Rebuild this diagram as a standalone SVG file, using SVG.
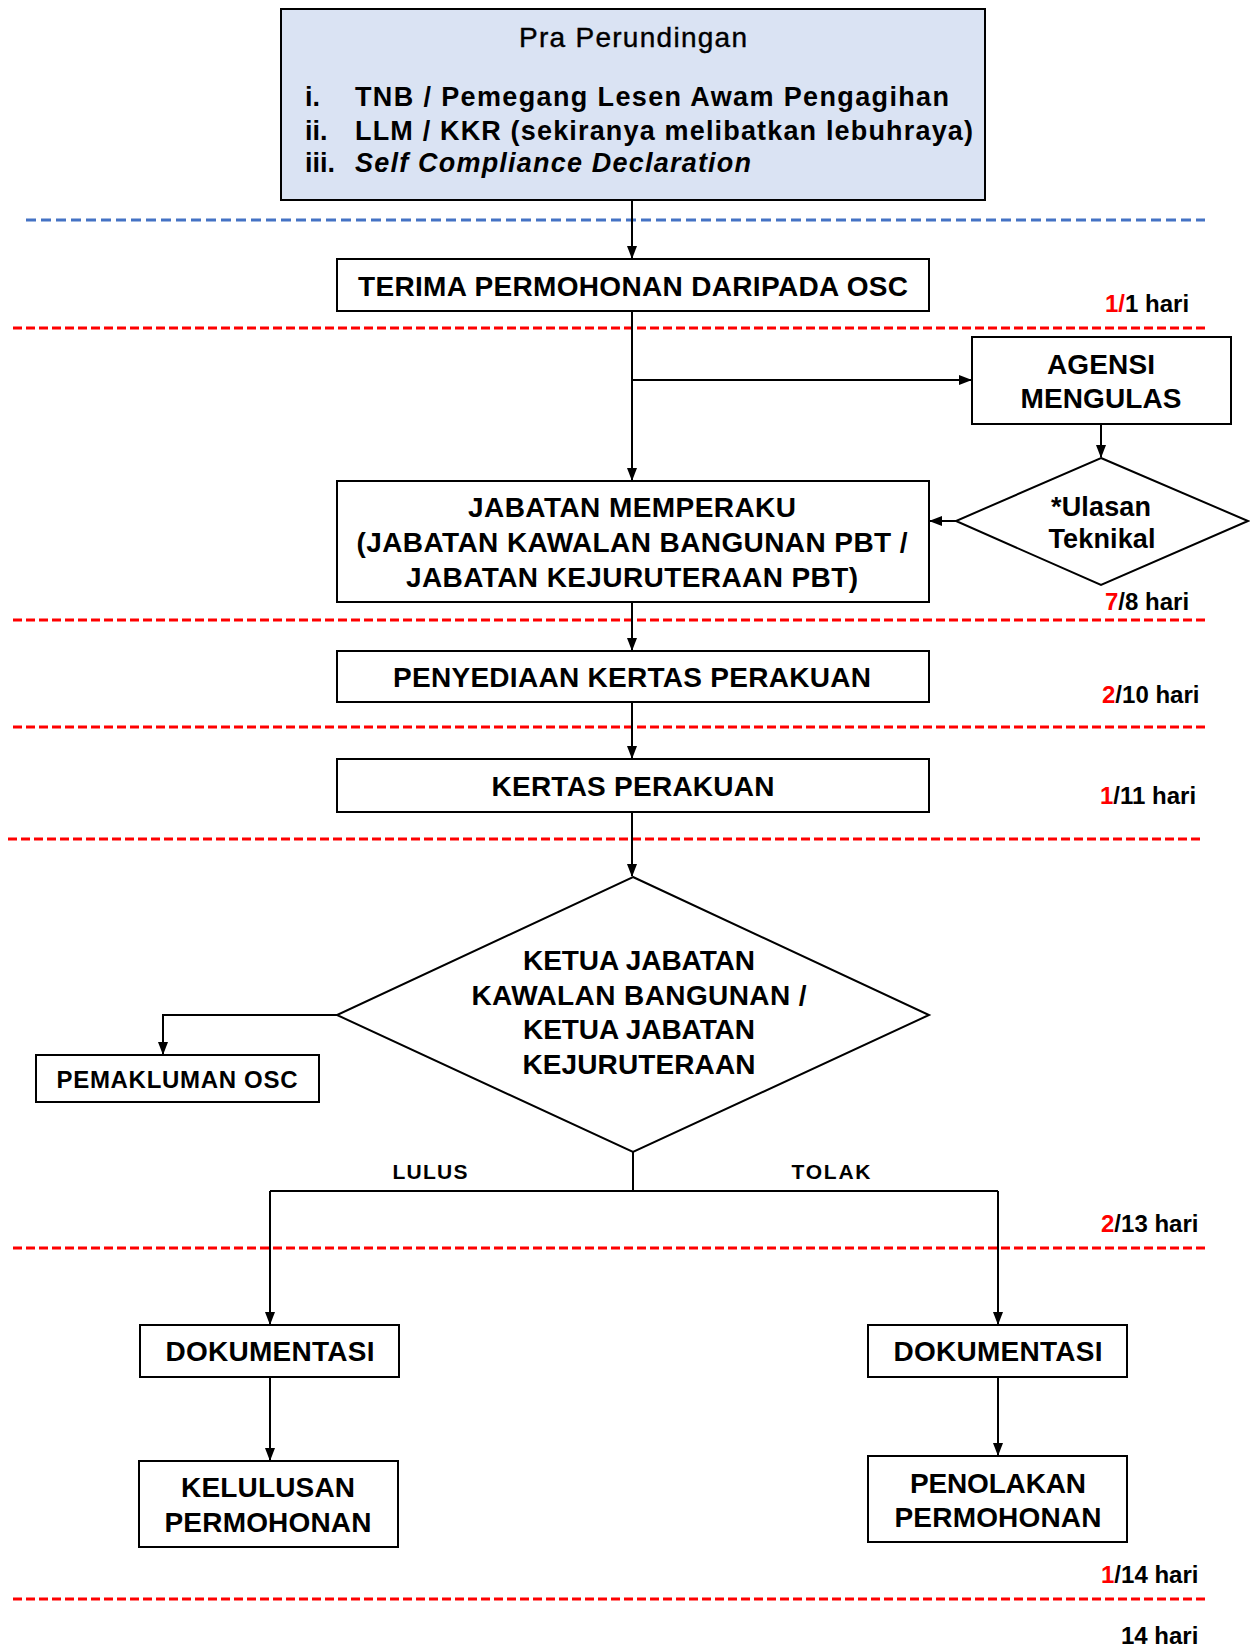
<svg xmlns="http://www.w3.org/2000/svg" width="1250" height="1647" viewBox="0 0 1250 1647">
<style>
.box{fill:#fff;stroke:#000;stroke-width:2}
.t{font-family:"Liberation Sans",Arial,sans-serif;font-weight:bold;font-size:28px;fill:#000;text-anchor:middle}
.s{font-family:"Liberation Sans",Arial,sans-serif;font-weight:bold;font-size:24px;fill:#000}
.r{fill:#ff0000}
.red{stroke:#ff0000;stroke-width:3;stroke-dasharray:9 4;fill:none}
.blue{stroke:#4472c4;stroke-width:3;stroke-dasharray:10 5;fill:none}
.c{stroke:#000;stroke-width:2;fill:none}
.ca{stroke:#000;stroke-width:2;fill:none;marker-end:url(#ah)}
</style>
<defs>
<marker id="ah" markerWidth="14" markerHeight="12" refX="12" refY="5" orient="auto" markerUnits="userSpaceOnUse">
<path d="M0,0 L13,5 L0,10 z" fill="#000"/>
</marker>
</defs>
<rect width="1250" height="1647" fill="#fff"/>
<g id="dividers">
<line class="blue" x1="26" y1="220" x2="1205" y2="220"/>
<line class="red" x1="13" y1="328" x2="1205" y2="328"/>
<line class="red" x1="13" y1="620" x2="1205" y2="620"/>
<line class="red" x1="13" y1="727" x2="1205" y2="727"/>
<line class="red" x1="8" y1="839" x2="1201" y2="839"/>
<line class="red" x1="13" y1="1248" x2="1205" y2="1248"/>
<line class="red" x1="13" y1="1599" x2="1205" y2="1599"/>
</g>
<g id="connectors">
<line class="ca" x1="632" y1="200" x2="632" y2="258"/>
<line class="ca" x1="632" y1="311" x2="632" y2="480"/>
<line class="ca" x1="632" y1="380" x2="971" y2="380"/>
<line class="ca" x1="1101" y1="424" x2="1101" y2="457"/>
<line class="ca" x1="956" y1="521" x2="930" y2="521"/>
<line class="ca" x1="632" y1="602" x2="632" y2="650"/>
<line class="ca" x1="632" y1="702" x2="632" y2="758"/>
<line class="ca" x1="632" y1="812" x2="632" y2="876"/>
<polyline class="ca" points="337,1015 163,1015 163,1054"/>
<line class="c" x1="633" y1="1152" x2="633" y2="1191"/>
<polyline class="ca" points="270,1191 270,1324"/>
<polyline class="c" points="270,1191 998,1191"/>
<polyline class="ca" points="998,1191 998,1324"/>
<line class="ca" x1="270" y1="1377" x2="270" y2="1460"/>
<line class="ca" x1="998" y1="1377" x2="998" y2="1455"/>
</g>
<g id="pra">
<rect x="281" y="9" width="704" height="191" fill="#dae3f3" stroke="#000" stroke-width="2"/>
<text x="633" y="47" font-family="Liberation Sans, Arial, sans-serif" font-size="28" text-anchor="middle" stroke="#000" stroke-width="0.4" textLength="228">Pra Perundingan</text>
<g font-family="Liberation Sans, Arial, sans-serif" font-weight="bold" font-size="27">
<text x="305" y="106">i.</text>
<text x="355" y="106" textLength="594">TNB / Pemegang Lesen Awam Pengagihan</text>
<text x="305" y="140">ii.</text>
<text x="355" y="140" textLength="618">LLM / KKR (sekiranya melibatkan lebuhraya)</text>
<text x="305" y="172">iii.</text>
<text x="355" y="172" font-style="italic" textLength="396">Self Compliance Declaration</text>
</g>
</g>
<g id="terima">
<rect class="box" x="337" y="259" width="592" height="52"/>
<text class="t" x="633" y="296" textLength="550">TERIMA PERMOHONAN DARIPADA OSC</text>
</g>
<g id="agensi">
<rect class="box" x="972" y="337" width="259" height="87"/>
<text class="t" x="1101" y="374" textLength="108">AGENSI</text>
<text class="t" x="1101" y="408" textLength="161">MENGULAS</text>
</g>
<g id="ulasan">
<polygon points="1101,458 1248,521 1101,585 956,521" fill="#fff" stroke="#000" stroke-width="2"/>
<text class="t" x="1101" y="516" style="font-size:27px" textLength="100">*Ulasan</text>
<text class="t" x="1102" y="548" style="font-size:27px" textLength="107">Teknikal</text>
</g>
<g id="jabatan">
<rect class="box" x="337" y="481" width="592" height="121"/>
<text class="t" x="632" y="517" textLength="328">JABATAN MEMPERAKU</text>
<text class="t" x="632" y="552" textLength="551">(JABATAN KAWALAN BANGUNAN PBT /</text>
<text class="t" x="632" y="587" textLength="452">JABATAN KEJURUTERAAN PBT)</text>
</g>
<g id="penyediaan">
<rect class="box" x="337" y="651" width="592" height="51"/>
<text class="t" x="632" y="687" textLength="478">PENYEDIAAN KERTAS PERAKUAN</text>
</g>
<g id="kertas">
<rect class="box" x="337" y="759" width="592" height="53"/>
<text class="t" x="633" y="796" textLength="283">KERTAS PERAKUAN</text>
</g>
<g id="ketua">
<polygon points="633,877 929,1015 633,1152 337,1015" fill="#fff" stroke="#000" stroke-width="2"/>
<text class="t" x="639" y="970" textLength="232">KETUA JABATAN</text>
<text class="t" x="639" y="1005" textLength="335">KAWALAN BANGUNAN /</text>
<text class="t" x="639" y="1039" textLength="232">KETUA JABATAN</text>
<text class="t" x="639" y="1074" textLength="233">KEJURUTERAAN</text>
</g>
<g id="pemakluman">
<rect class="box" x="36" y="1055" width="283" height="47"/>
<text class="t" x="177" y="1088" style="font-size:24px" textLength="241">PEMAKLUMAN OSC</text>
</g>
<g id="labels">
<text class="t" x="430" y="1179" style="font-size:21px" textLength="75">LULUS</text>
<text class="t" x="831" y="1179" style="font-size:21px" textLength="79">TOLAK</text>
</g>
<g id="dok1">
<rect class="box" x="140" y="1325" width="259" height="52"/>
<text class="t" x="270" y="1361" textLength="209">DOKUMENTASI</text>
</g>
<g id="dok2">
<rect class="box" x="868" y="1325" width="259" height="52"/>
<text class="t" x="998" y="1361" textLength="209">DOKUMENTASI</text>
</g>
<g id="kelulusan">
<rect class="box" x="139" y="1461" width="259" height="86"/>
<text class="t" x="268" y="1497" textLength="174">KELULUSAN</text>
<text class="t" x="268" y="1532" textLength="207">PERMOHONAN</text>
</g>
<g id="penolakan">
<rect class="box" x="868" y="1456" width="259" height="86"/>
<text class="t" x="998" y="1493" textLength="176">PENOLAKAN</text>
<text class="t" x="998" y="1527" textLength="207">PERMOHONAN</text>
</g>
<g id="durations">
<text class="s" x="1105" y="312"><tspan class="r">1/</tspan>1 hari</text>
<text class="s" x="1105" y="610"><tspan class="r">7</tspan>/8 hari</text>
<text class="s" x="1102" y="703"><tspan class="r">2</tspan>/10 hari</text>
<text class="s" x="1100" y="804"><tspan class="r">1</tspan>/11 hari</text>
<text class="s" x="1101" y="1232"><tspan class="r">2</tspan>/13 hari</text>
<text class="s" x="1101" y="1583"><tspan class="r">1</tspan>/14 hari</text>
<text class="s" x="1121" y="1644">14 hari</text>
</g>
</svg>
